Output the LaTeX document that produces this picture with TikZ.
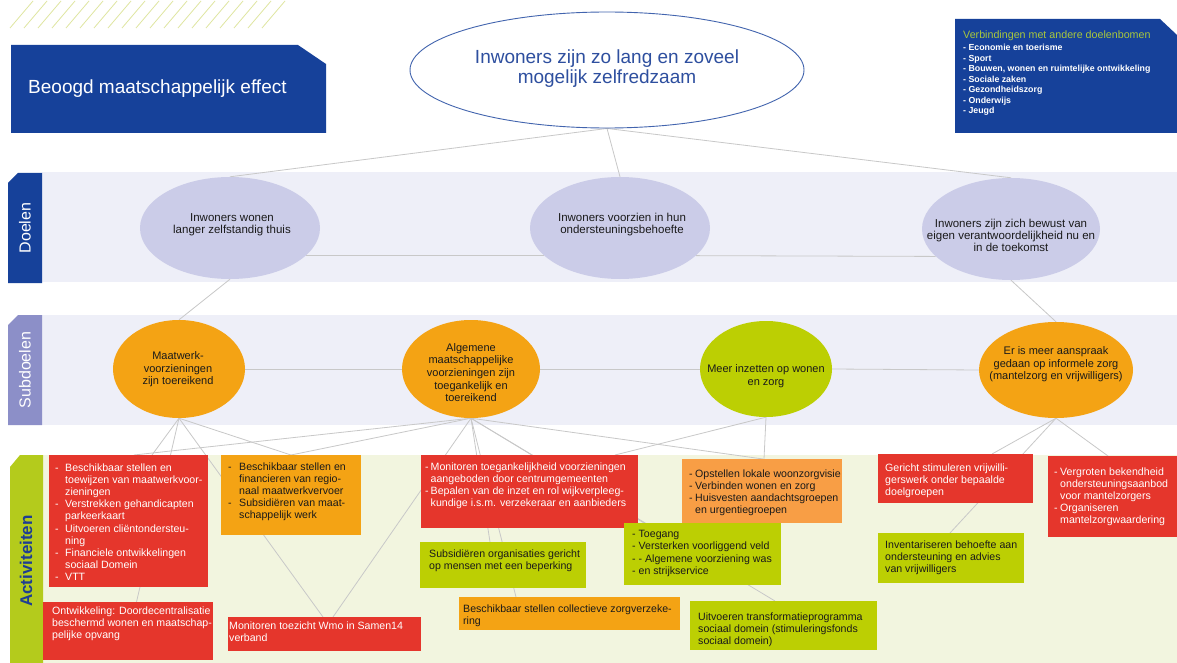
\documentclass[tikz,border=0pt]{standalone}
\usepackage{fontspec}
\setmainfont{Liberation Sans}
\usetikzlibrary{shapes.geometric,calc}
\pgfdeclarelayer{bg}
\pgfdeclarelayer{lines}
\pgfsetlayers{bg,lines,main}
\definecolor{dblue}{HTML}{16419A}
\definecolor{bandlav}{HTML}{EEEFF8}
\definecolor{lavell}{HTML}{CBCCE8}
\definecolor{subtab}{HTML}{8C8FC8}
\definecolor{cream}{HTML}{F2F5DF}
\definecolor{acttab}{HTML}{B4CB1C}
\definecolor{actred}{HTML}{E5362C}
\definecolor{actorange}{HTML}{F4A314}
\definecolor{actorangeb}{HTML}{F89E45}
\definecolor{actgreen}{HTML}{BCCF03}
\definecolor{hatchc}{HTML}{DFE6A0}
\definecolor{linegray}{HTML}{C8C8C8}
\definecolor{titlegreen}{HTML}{A9C83C}
\definecolor{efftext}{HTML}{2E4F9F}
\definecolor{ellblue}{HTML}{4264AE}
\definecolor{actblue}{HTML}{1E3E92}
\definecolor{txtdark}{HTML}{1A1A1A}
\newcommand\dsh[1]{\makebox[#1][l]{-}}
\newcommand\myind[1]{\hspace*{#1}}
\begin{document}
\begin{tikzpicture}[x=1pt,y=-1pt,
  ell/.style={ellipse, draw=none, inner sep=0pt},
  etext/.style={align=center, inner sep=0pt, text=txtdark},
  abox/.style={rectangle, draw=none, inner sep=0pt, anchor=north west},
  atext/.style={align=left, inner sep=0pt, anchor=north west, font=\fontsize{10.6}{12.2}\selectfont},
  wtext/.style={atext, text=white},
  dtext/.style={atext, text=txtdark},
  conn/.style={draw=linegray, line width=0.8pt},
  hatch/.style={draw=hatchc, line width=0.8pt},
  goalfont/.style={font=\fontsize{11.5}{12}\selectfont},
  subfont/.style={font=\fontsize{11}{12.5}\selectfont},
]
\useasboundingbox (0,0) rectangle (1177,663);
\begin{pgfonlayer}{bg}
\fill[white] (0,0) rectangle (1177,663);
\foreach \i in {0,...,18} \draw[hatch] (10+14*\i,28) -- (33+14*\i,1);
\fill[bandlav] (42,172) rectangle (1177,282);
\fill[bandlav] (42,315) rectangle (1177,425);
\fill[cream] (43,455) rectangle (1177,663);
\end{pgfonlayer}

% header boxes
\fill[dblue] (11,45) -- (298,45) -- (326,64) -- (326,133) -- (11,133) -- cycle;
\node[anchor=west, text=white, font=\fontsize{19}{22}\selectfont, inner sep=0pt] (beoogd) at (28,89) {Beoogd maatschappelijk effect};
\fill[dblue] (955,19) -- (1160,19) -- (1177,35) -- (1177,133) -- (955,133) -- cycle;
\node[anchor=west, text=titlegreen, font=\fontsize{10.7}{12}\selectfont, inner sep=0pt] (verbt) at (963,36) {Verbindingen met andere doelenbomen};
\node[anchor=north west, align=left, text=white, font=\bfseries\fontsize{8.8}{10.5}\selectfont, inner sep=0pt] (verbl) at (963,44) {- Economie en toerisme\\- Sport\\- Bouwen, wonen en ruimtelijke ontwikkeling\\- Sociale zaken\\- Gezondheidszorg\\- Onderwijs\\- Jeugd};

% side tabs
\fill[dblue] (8,183) -- (18,173) -- (42,173) -- (42,283) -- (8,283) -- cycle;
\node[rotate=90, text=white, font=\fontsize{16}{16}\selectfont, inner sep=0pt] (doelenl) at (25,228) {Doelen};
\fill[subtab] (8,325) -- (18,315) -- (42,315) -- (42,425) -- (8,425) -- cycle;
\node[rotate=90, text=white, font=\fontsize{16}{16}\selectfont, inner sep=0pt] (subl) at (25,370) {Subdoelen};
\fill[acttab] (10,467) -- (20,455) -- (43,455) -- (43,663) -- (10,663) -- cycle;
\node[rotate=90, text=actblue, font=\bfseries\fontsize{17}{17}\selectfont, inner sep=0pt] (actl) at (26,561) {Activiteiten};

% effect
\node[ell, draw=ellblue, line width=0.9pt, fill=white, minimum width=394pt, minimum height=116pt] (eff) at (607,70) {};
\node[etext, text=efftext, font=\fontsize{19}{20}\selectfont] (efft) at (607,69) {Inwoners zijn zo lang en zoveel\\mogelijk zelfredzaam};

% goals
\node[ell, fill=lavell, minimum width=180pt, minimum height=102pt] (g1) at (230,228) {};
\node[etext, goalfont] (g1t) at (232,225) {Inwoners wonen\\langer zelfstandig thuis};
\node[ell, fill=lavell, minimum width=180pt, minimum height=102pt] (g2) at (620,228) {};
\node[etext, goalfont] (g2t) at (622,225) {Inwoners voorzien in hun\\ondersteuningsbehoefte};
\node[ell, fill=lavell, minimum width=178pt, minimum height=102pt] (g3) at (1011,229) {};
\node[etext, goalfont] (g3t) at (1011,235) {Inwoners zijn zich bewust van\\eigen verantwoordelijkheid nu en\\in de toekomst};

% subgoals
\node[ell, fill=actorange, minimum width=132pt, minimum height=98pt] (sm) at (179,369) {};
\node[etext, subfont] (smt) at (178,369.5) {Maatwerk-\\voorzieningen\\zijn toereikend};
\node[ell, fill=actorange, minimum width=138pt, minimum height=98pt] (sa) at (471,369) {};
\node[etext, font=\fontsize{11}{12.7}\selectfont] (sat) at (471,372.5) {Algemene\\maatschappelijke\\voorzieningen zijn\\toegankelijk en\\toereikend};
\node[ell, fill=actgreen, minimum width=132pt, minimum height=96pt] (sw) at (766,369) {};
\node[etext, subfont] (swt) at (766,376) {Meer inzetten op wonen\\en zorg};
\node[ell, fill=actorange, minimum width=154pt, minimum height=96pt] (se) at (1056,370) {};
\node[etext, subfont] (set) at (1056,364.5) {Er is meer aanspraak\\gedaan op informele zorg\\(mantelzorg en vrijwilligers)};

% activity boxes
\node[abox, fill=actred, minimum width=159pt, minimum height=132pt] (ar1) at (49,455) {};
\node[wtext] (ar1t) at (55,463.3) {\dsh{10pt}Beschikbaar stellen en\\\myind{10pt}toewijzen van maatwerkvoor-\\\myind{10pt}zieningen\\\dsh{10pt}Verstrekken gehandicapten\\\myind{10pt}parkeerkaart\\\dsh{10pt}Uitvoeren cliëntondersteu-\\\myind{10pt}ning\\\dsh{10pt}Financiele ontwikkelingen\\\myind{10pt}sociaal Domein\\\dsh{10pt}VTT};

\node[abox, fill=actred, minimum width=170pt, minimum height=58pt] (ar2) at (43,602) {};
\node[wtext] (ar2t) at (52,606.3) {Ontwikkeling: Doordecentralisatie\\beschermd wonen en maatschap-\\pelijke opvang};

\node[abox, fill=actorange, minimum width=140pt, minimum height=80pt] (ao1) at (221,455) {};
\node[dtext] (ao1t) at (228,462.3) {\dsh{11pt}Beschikbaar stellen en\\\myind{11pt}financieren van regio-\\\myind{11pt}naal maatwerkvervoer\\\dsh{11pt}Subsidiëren van maat-\\\myind{11pt}schappelijk werk};

\node[abox, fill=actred, minimum width=193pt, minimum height=34pt] (ar4) at (228,617) {};
\node[wtext] (ar4t) at (229,621.3) {Monitoren toezicht Wmo in Samen14\\verband};

\node[abox, fill=actred, minimum width=217pt, minimum height=73pt] (ar3) at (421,455) {};
\node[wtext] (ar3t) at (425,462.3) {\dsh{5.5pt}Monitoren toegankelijkheid voorzieningen\\\myind{5.5pt}aangeboden door centrumgemeenten\\\dsh{5.5pt}Bepalen van de inzet en rol wijkverpleeg-\\\myind{5.5pt}kundige i.s.m. verzekeraar en aanbieders};

\node[abox, fill=actgreen, minimum width=166pt, minimum height=46pt] (ag1) at (420,542) {};
\node[dtext] (ag1t) at (429,549.3) {Subsidiëren organisaties gericht\\op mensen met een beperking};

\node[abox, fill=actorange, minimum width=221pt, minimum height=33pt] (ao2) at (459,597) {};
\node[dtext] (ao2t) at (463,604.3) {Beschikbaar stellen collectieve zorgverzeke-\\ring};

\node[abox, fill=actorangeb, minimum width=160pt, minimum height=64pt] (ao3) at (682,459) {};
\node[dtext] (ao3t) at (689,469.3) {\dsh{6pt}Opstellen lokale woonzorgvisie\\\dsh{6pt}Verbinden wonen en zorg\\\dsh{6pt}Huisvesten aandachtsgroepen\\\myind{6pt}en urgentiegroepen};

\node[abox, fill=actgreen, minimum width=157pt, minimum height=62pt] (ag2) at (624,523) {};
\node[dtext] (ag2t) at (632,530.3) {- Toegang\\- Versterken voorliggend veld\\- - Algemene voorziening was\\- en strijkservice};

\node[abox, fill=actgreen, minimum width=187pt, minimum height=49pt] (ag3) at (690,601) {};
\node[dtext] (ag3t) at (698,612.3) {Uitvoeren transformatieprogramma\\sociaal domein (stimuleringsfonds\\sociaal domein)};

\node[abox, fill=actred, minimum width=155pt, minimum height=49pt] (ar5) at (878,454) {};
\node[wtext] (ar5t) at (885,463.3) {Gericht stimuleren vrijwilli-\\gerswerk onder bepaalde\\doelgroepen};

\node[abox, fill=actgreen, minimum width=146pt, minimum height=50pt] (ag4) at (878,533) {};
\node[dtext] (ag4t) at (885,540.3) {Inventariseren behoefte aan\\ondersteuning en advies\\van vrijwilligers};

\node[abox, fill=actred, minimum width=129pt, minimum height=81pt] (ar6) at (1048,456) {};
\node[wtext] (ar6t) at (1054,467.3) {\dsh{6pt}Vergroten bekendheid\\\myind{6pt}ondersteuningsaanbod\\\myind{6pt}voor mantelzorgers\\\dsh{6pt}Organiseren\\\myind{6pt}mantelzorgwaardering};

% connectors
\begin{pgfonlayer}{lines}
\draw[conn] (eff.south) -- (g1.north);
\draw[conn] (eff.south) -- (g2.north);
\draw[conn] (eff.south) -- (g3.north);
\draw[conn] (g1.-20) -- (g2.200);
\draw[conn] (g2.-20) -- (g3.200);
\draw[conn] (g1.south) -- (sm.north);
\draw[conn] (g3.south) -- (se.north);
\draw[conn] (sm.east) -- (sa.west);
\draw[conn] (sa.east) -- (sw.west);
\draw[conn] (sw.east) -- (se.west);
\draw[conn] (sm.south) -- ([xshift=103pt]ar1.north west);
\draw[conn] (sm.south) -- ([xshift=93.5pt]ar2.north west);
\draw[conn] (sm.south) -- ([xshift=95pt]ar4.north west);
\draw[conn] (sm.south) -- ([xshift=70pt]ao1.north west);
\draw[conn] (sa.south) -- ([xshift=85pt]ar1.north west);
\draw[conn] (sa.south) -- ([xshift=70pt]ao1.north west);
\draw[conn] (sa.south) -- ([xshift=105pt]ar4.north west);
\draw[conn] (sa.south) -- ([xshift=70pt]ag1.north west);
\draw[conn] (sa.south) -- ([xshift=57pt]ao2.north west);
\draw[conn] (sa.south) -- ([xshift=85pt]ag3.north west);
\draw[conn] (sa.south) -- ([xshift=20pt]ag2.north west);
\draw[conn] (sa.south) -- ([xshift=81pt]ao3.north west);
\draw[conn] (sw.south) -- ([xshift=82pt]ao3.north west);
\draw[conn] (sw.south) -- ([xshift=194pt]ar3.north west);
\draw[conn] (se.south) -- ([xshift=114pt]ar5.north west);
\draw[conn] (se.south) -- ([xshift=72pt]ag4.north west);
\draw[conn] (se.south) -- ([xshift=60pt]ar6.north west);
\end{pgfonlayer}
\end{tikzpicture}
\end{document}
